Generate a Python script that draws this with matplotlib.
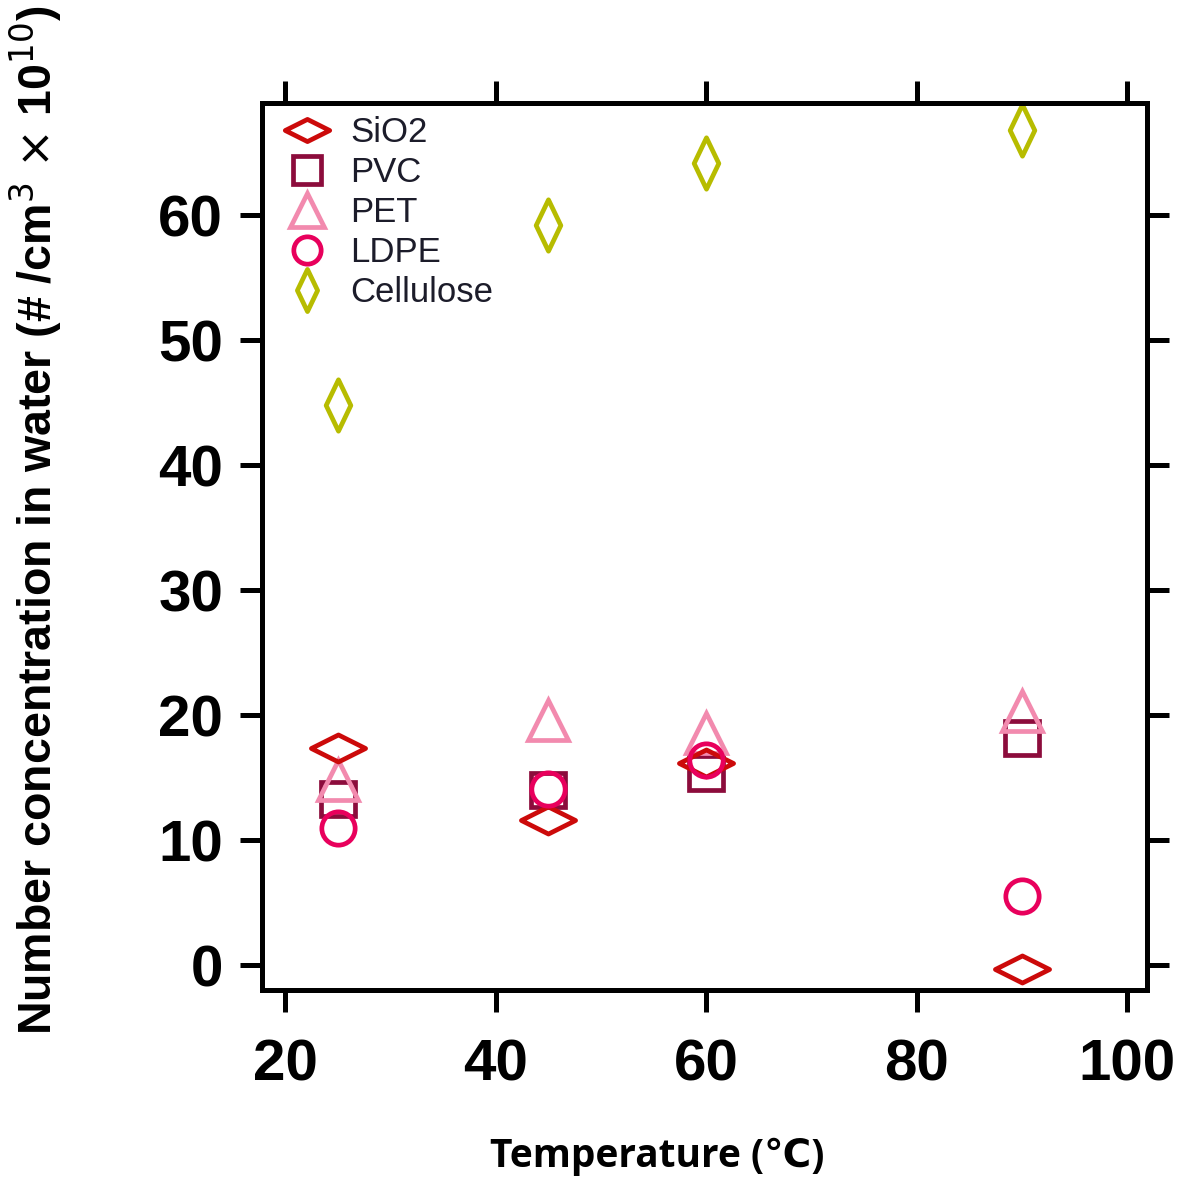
import matplotlib
matplotlib.use("Agg")
import matplotlib.pyplot as plt
from matplotlib.path import Path

# temperatures (deg C) and number concentrations (x 1e10 per cm3)
temperature = [25, 45, 60, 90]
sio2 = [17.4, 11.6, 16.2, -0.3]
pvc = [13.3, 14.0, 15.4, 18.2]
pet = [14.8, 19.6, 18.6, 20.3]
ldpe = [11.0, 14.1, 16.4, 5.5]
cellulose = [44.8, 59.2, 64.2, 66.8]

x_ticks = [20, 40, 60, 80, 100]
y_ticks = [0, 10, 20, 30, 40, 50, 60]

narrow = ["Liberation Sans Narrow", "Liberation Sans", "DejaVu Sans"]

# flat diamond for SiO2, tall diamond for cellulose
wide_diamond = Path([(-1, 0), (0, 0.5), (1, 0), (0, -0.5), (-1, 0)],
                    [Path.MOVETO, Path.LINETO, Path.LINETO, Path.LINETO, Path.CLOSEPOLY])
tall_diamond = Path([(0, 1), (0.48, 0), (0, -1), (-0.48, 0), (0, 1)],
                    [Path.MOVETO, Path.LINETO, Path.LINETO, Path.LINETO, Path.CLOSEPOLY])

fig = plt.figure(figsize=(11.8, 11.8), dpi=100)
ax = fig.add_axes([0.222, 0.161, 0.75, 0.752])

mew = 3.4
h_pvc, = ax.plot(temperature, pvc, ls="none", marker="s", ms=24, mfc="none",
                 mec="#8c0c3c", mew=mew)
h_pet, = ax.plot(temperature, pet, ls="none", marker="^", ms=29, mfc="none",
                 mec="#f28aae", mew=mew)
h_sio2, = ax.plot(temperature, sio2, ls="none", marker=wide_diamond, ms=39, mfc="none",
                  mec="#cc0a0a", mew=mew)
h_ldpe, = ax.plot(temperature, ldpe, ls="none", marker="o", ms=24, mfc="none",
                  mec="#e8005c", mew=mew)
h_cell, = ax.plot(temperature, cellulose, ls="none", marker=tall_diamond, ms=37, mfc="none",
                  mec="#b7bc00", mew=mew)

ax.set_xlim(17.8, 101.9)
ax.set_ylim(-2.0, 69.0)
ax.set_xticks(x_ticks)
ax.set_yticks(y_ticks)

for side in ["left", "right", "top", "bottom"]:
    ax.spines[side].set_linewidth(3.6)

ax.tick_params(axis="both", direction="out", length=16, width=3.6,
               top=True, right=True, labeltop=False, labelright=False)
ax.tick_params(axis="x", pad=19)
ax.tick_params(axis="y", pad=12)
for lab in ax.get_xticklabels() + ax.get_yticklabels():
    lab.set_family(narrow)
    lab.set_fontweight("bold")
    lab.set_fontsize(42)

leg = ax.legend([h_sio2, h_pvc, h_pet, h_ldpe, h_cell],
                ["SiO2", "PVC", "PET", "LDPE", "Cellulose"],
                loc="upper left", bbox_to_anchor=(0.0, 1.012), frameon=False,
                markerscale=0.82, handlelength=1.2, handletextpad=0.65,
                labelspacing=0.2, borderaxespad=0.3,
                prop={"family": ["Liberation Sans", "DejaVu Sans"], "size": 25})
for t in leg.get_texts():
    t.set_color("#1c1c2a")

fig.text(0.030, 0.559,
         r"Number concentration in water (# /cm$^{3}$ $\times$ 10$^{10}$)",
         rotation=90, ha="center", va="center", fontsize=33.5,
         fontweight="bold", family=narrow)
fig.text(0.557, 0.020, "Temperature (\u2103)", ha="center", va="center",
         fontsize=28, fontweight="bold", family=["Open Sans", "DejaVu Sans"])

fig.savefig("out.png", dpi=100)
